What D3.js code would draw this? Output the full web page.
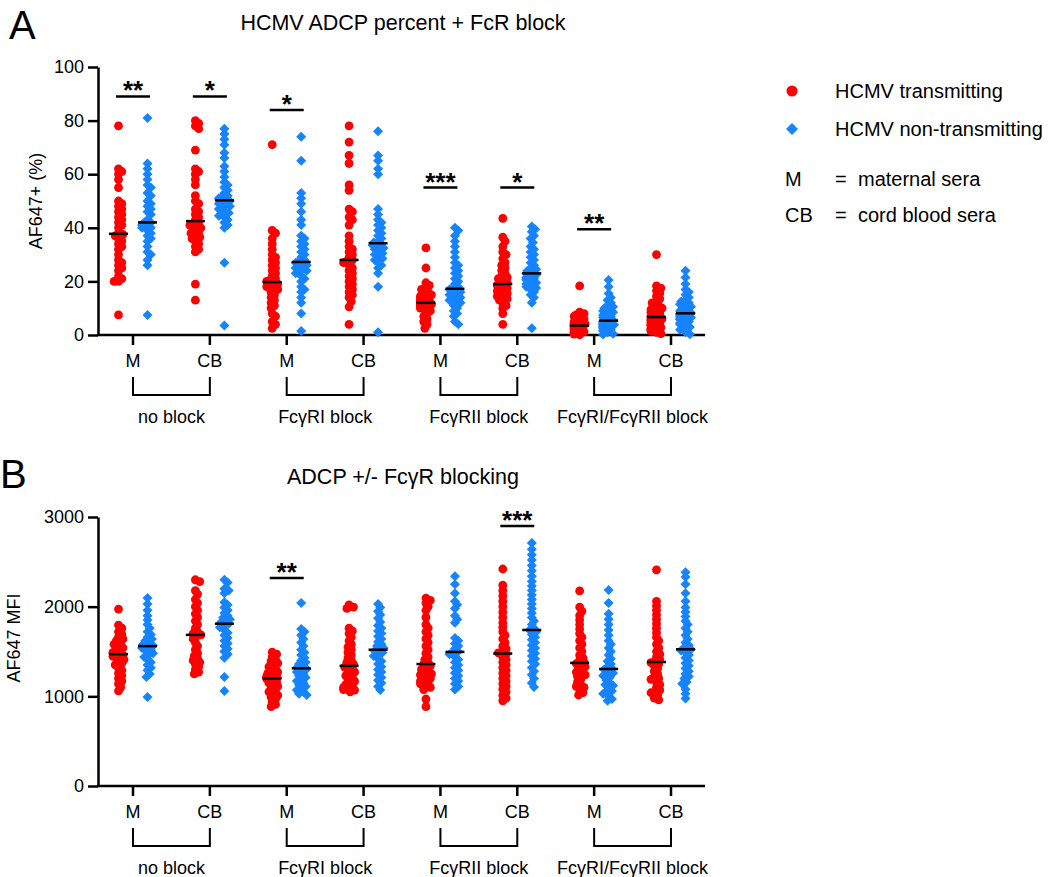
<!DOCTYPE html>
<html>
<head>
<meta charset="utf-8">
<title>ADCP FcR block</title>
<script src="https://d3js.org/d3.v7.min.js"></script>
<style>
  body { margin: 0; background: #fff; }
  text { font-family: "Liberation Sans", Arial, Helvetica, sans-serif; fill: #000; }
</style>
</head>
<body>
<script>
// categories
var positions = ["M", "CB", "M", "CB", "M", "CB", "M", "CB"];
var blocks = ["no block", "Fc\u03B3RI block", "Fc\u03B3RII block", "Fc\u03B3RI/Fc\u03B3RII block"];
var seriesNames = ["HCMV transmitting", "HCMV non-transmitting"];
var pctTicks = [0, 20, 40, 60, 80, 100];
var mfiTicks = [0, 1000, 2000, 3000];

// panel A: AF647+ (%)
var pctTransmitting = [
  [78,62,61,60,58,55,50,49,48,47,46,45,44,43,42,41,40,38,37.5,37,36,35,34,33,32,30,28,27,26,25,24,22,21,20,20,7.5],
  [80,79,78,77,69,62,61,60,58,56,52,50,49,47,46,45,44,43,42,41.5,41,40.5,40,39,38.5,38,37,36.5,36,35,34,33,32,31,19,13],
  [71,39,38,36,34,32,30,29,28,27,26,25,24,23,22,21,20.5,20,19.5,19,18.5,18,17.5,17,16,15,14,13,12,11,10,8,7,5,4,2.5],
  [78,72,67,64,56,54,47,46,44,43,41,37,35,33,32,31,30,29,28,27.5,27,26,25,24,23,22,21,20,19,18,17,16,15,14,12.5,10.5,4],
  [32.5,25,19.5,18.5,17.5,17,16,15.5,15,14.5,14,13.5,13,12.8,12.5,12,11.8,11.5,11.2,11,10.8,10.5,10,9.5,9,8,7,6,5,4,2.5],
  [43.5,36.5,35,33,31,30,28.5,27,26,25,24,23,22,21.5,21,20,19.5,19,18.5,18,17.5,17,16.5,16,15.5,15,14.5,14,13.5,13,12,11,10,8,4],
  [18.3,8.5,8,7.5,7,6.5,6,5.5,5,4.8,4.5,4.2,4,3.8,3.6,3.4,3.2,3,2.8,2.5,2.2,2,1.8,1.5,1.2,1,0.8,0.5,0.3,0.1],
  [30,18.3,17.5,16.5,15.5,14.5,13.5,12.5,12,11,10.5,10,9.5,9,8.5,8,7.5,7,6.7,6.4,6,5.8,5.5,5,4.8,4.5,4,3.8,3.5,3,2.8,2.5,2,1.8,1.5,1,0.5]
];
var pctNonTransmitting = [
  [81,64,62,60,58,56,55,53,52,50,49,48,47,46,45,43,42,42,41,41,40,40,39,38,37,36,35,33,31,30,28,26,7.5],
  [77,75,73,71,68,66,63,61,59,57,56,55,54,53,52,51.5,51,50.5,50,49.5,49,48.5,48,47.5,47,46,45.5,45,44.5,44,43,42,41,40,27,3.5],
  [74,65,53,51,49,46,43,41,37,36,35,34,33,32,31,30,29,28,27.5,27,26.5,26,25.5,25,24.5,24,23.5,23,22,21,20,18,17,16,14,12,8,1.5],
  [76,67,65,62,60,47,45,43,42,41,40,39,38,37,36,35,34.5,34,33.5,33,32.5,32,31,30.5,30,29,28.5,28,27,26,25,23,18,1],
  [40,39,37,35,31,29,27,26,25,24,23,22,21,20,19,18,17.5,17,16.5,16,15.5,15,14.5,14,13.5,13,12.5,12,11,10,9,8,7,5,4,33],
  [40.5,39.5,38.5,37,36,34.5,33,32,31,30,29,28,27,26,25,24.5,24,23.5,23,22.5,22,21.5,21,20.8,20.5,20,19.5,19,18.5,18,17.5,17,16,15,14,12,2.5],
  [20.5,18,15.5,14,13,12,11,10.5,10,9.5,9,8.5,8,7.5,7,6.5,6,5.5,5.2,5,4.8,4.5,4.2,4,3.8,3.5,3.2,3,2.8,2.5,2,1.8,1.5,1,0.5,0.2],
  [24,21.5,19,17,16,15,14,13,12.5,12,11.5,11,10.5,10,9.5,9,8.5,8.2,8,7.8,7.5,7,6.8,6.5,6,5.8,5.5,5,4.5,4,3.5,3,2.5,2,1,0.3]
];

// panel B: AF647 MFI
var mfiTransmitting = [
  [1973,1795,1760,1720,1690,1660,1640,1620,1600,1580,1560,1540,1520,1500,1490,1480,1470,1460,1445,1430,1410,1390,1370,1350,1320,1290,1260,1230,1200,1170,1140,1100,1060],
  [2300,2280,2180,2140,2080,2040,2000,1960,1920,1880,1840,1800,1760,1720,1700,1685,1670,1640,1600,1560,1520,1480,1450,1420,1400,1380,1360,1330,1300,1270,1250],
  [1494,1470,1440,1410,1390,1370,1350,1330,1310,1290,1270,1255,1240,1225,1215,1205,1195,1180,1165,1150,1130,1110,1090,1070,1050,1030,1010,990,970,940,910,885],
  [2020,1995,1980,1760,1730,1700,1660,1620,1580,1550,1520,1490,1460,1430,1400,1380,1360,1340,1325,1310,1290,1270,1250,1230,1210,1190,1170,1150,1130,1110,1100,1090,1075,1070,1050],
  [2096,2070,2040,2000,1960,1880,1800,1760,1720,1680,1640,1600,1560,1520,1480,1440,1410,1380,1360,1340,1320,1300,1280,1260,1250,1240,1220,1200,1180,1170,1160,1140,1120,1100,1075,970,885],
  [2420,2240,2180,2120,2060,2000,1940,1880,1820,1770,1720,1680,1640,1600,1560,1530,1500,1485,1470,1440,1410,1380,1350,1320,1290,1260,1230,1200,1170,1140,1110,1080,1050,1010,980,950],
  [2175,1995,1950,1900,1850,1800,1750,1700,1660,1620,1580,1540,1500,1460,1430,1400,1380,1365,1350,1330,1310,1290,1270,1250,1240,1220,1190,1160,1130,1110,1100,1070,1040,1015],
  [2410,2060,2010,1960,1910,1860,1810,1760,1710,1660,1620,1580,1540,1500,1470,1440,1410,1390,1375,1360,1340,1310,1280,1250,1220,1200,1190,1160,1130,1100,1070,1050,1040,1010,980,960]
];
var mfiNonTransmitting = [
  [2096,2030,1960,1900,1850,1800,1760,1720,1690,1660,1640,1620,1600,1580,1565,1555,1540,1520,1500,1480,1460,1440,1410,1380,1350,1320,1290,1250,1215,992],
  [2300,2270,2200,2180,2150,2050,2020,1990,1960,1930,1900,1880,1860,1840,1825,1810,1790,1770,1740,1710,1680,1650,1620,1590,1560,1530,1500,1470,1430,1215,1060],
  [2040,1750,1720,1680,1640,1600,1560,1520,1490,1460,1430,1400,1380,1360,1340,1320,1305,1290,1270,1250,1230,1210,1190,1170,1150,1130,1110,1090,1070,1050,1030,1015],
  [2030,1990,1950,1910,1870,1830,1790,1760,1730,1700,1670,1640,1610,1580,1560,1540,1520,1505,1490,1470,1450,1420,1390,1360,1330,1300,1270,1240,1210,1180,1150,1110,1070],
  [2340,2250,2150,2060,2020,1980,1900,1860,1820,1650,1620,1590,1560,1530,1500,1490,1470,1440,1410,1380,1350,1320,1290,1260,1230,1200,1170,1140,1110,1075],
  [2710,2640,2580,2520,2460,2400,2340,2280,2230,2180,2130,2080,2030,1980,1930,1880,1840,1800,1760,1740,1720,1690,1660,1630,1600,1570,1540,1510,1480,1450,1420,1390,1360,1320,1280,1240,1200,1150,1105],
  [2185,2040,1920,1860,1800,1740,1680,1620,1580,1540,1500,1460,1420,1390,1360,1330,1310,1300,1280,1260,1240,1230,1210,1180,1150,1130,1120,1090,1060,1050,1030,1000,970,950],
  [2385,2330,2250,2150,2060,1990,1940,1890,1840,1800,1760,1720,1680,1640,1600,1570,1545,1525,1510,1490,1460,1430,1400,1370,1340,1310,1280,1250,1220,1200,1160,1140,1080,1030,975]
];

// significance: group index, height (data units), stars
var pctSigGroups = [0, 1, 2, 4, 5, 6];
var pctSigHeights = [89, 89, 84, 55, 55, 39.5];
var pctSigLabels = ["**", "*", "*", "***", "*", "**"];
var mfiSigGroups = [2, 5];
var mfiSigHeights = [2320, 2900];
var mfiSigLabels = ["**", "***"];

var red = "#ff0000", blue = "#1683ff";

var svg = d3.select("body").append("svg")
  .attr("width", 1050)
  .attr("height", 877);

var x = d3.scalePoint().domain(d3.range(positions.length)).range([133, 671]);

// narrow column scatter, points allowed to overlap a bit
function swarm(vals, y, cx) {
  var pts = vals.map(function(v) { return {v: v, y: y(v)}; })
    .sort(function(a, b) { return a.y - b.y; });
  var placed = [];
  pts.forEach(function(p) {
    var best = 0;
    for (var k = 0; k < 11; k++) {
      var dx = k === 0 ? 0 : (k % 2 ? 1 : -1) * Math.ceil(k / 2) * 1.1;
      best = dx;
      var ok = placed.every(function(q) { return Math.hypot(q.dx - dx, q.y - p.y) >= 4.2; });
      if (ok) break;
    }
    p.dx = best;
    placed.push(p);
  });
  pts.forEach(function(p) { p.x = cx + p.dx; });
  return pts;
}

function drawPanel(o) {
  var g = svg.append("g");
  var y = d3.scaleLinear().domain(o.domain).range([o.y0, o.y1]);

  g.append("text").attr("x", o.letterX).attr("y", o.letterY)
    .style("font-size", "40px").text(o.letter);
  g.append("text").attr("x", 403).attr("y", o.titleY)
    .attr("text-anchor", "middle").style("font-size", "21.5px").text(o.title);

  // y axis
  var ya = g.append("g").attr("transform", "translate(98,0)")
    .call(d3.axisLeft(y).tickValues(o.ticks).tickFormat(d3.format("d"))
      .tickSize(10).tickSizeOuter(0).tickPadding(4));
  ya.selectAll("path, line").attr("stroke", "#000").attr("stroke-width", 2.5);
  ya.selectAll("text").style("font-size", "18px").attr("font-family", null);

  g.append("text")
    .attr("transform", "translate(" + o.yTitleX + "," + y((o.domain[0] + o.domain[1]) / 2 + o.yTitleShift) + ") rotate(-90)")
    .attr("text-anchor", "middle").style("font-size", "18px").text(o.yTitle);

  // x axis
  g.append("line").attr("x1", 97).attr("x2", 705).attr("y1", o.y0).attr("y2", o.y0)
    .attr("stroke", "#000").attr("stroke-width", 2.5);
  positions.forEach(function(p, i) {
    g.append("line").attr("x1", x(i)).attr("x2", x(i)).attr("y1", o.y0).attr("y2", o.y0 + 10)
      .attr("stroke", "#000").attr("stroke-width", 2.5);
    g.append("text").attr("x", x(i)).attr("y", o.y0 + 32).attr("text-anchor", "middle")
      .style("font-size", "18px").text(p);
  });
  blocks.forEach(function(b, j) {
    var xa = x(j * 2), xb = x(j * 2 + 1);
    g.append("path")
      .attr("d", "M" + xa + "," + (o.y0 + 42) + "V" + (o.y0 + 60) + "H" + xb + "V" + (o.y0 + 42))
      .attr("fill", "none").attr("stroke", "#000").attr("stroke-width", 2);
    g.append("text").attr("x", (xa + xb) / 2).attr("y", o.y0 + 88).attr("text-anchor", "middle")
      .style("font-size", "18px").text(b);
  });

  // points
  [o.trans, o.non].forEach(function(series, s) {
    series.forEach(function(vals, i) {
      var cx = x(i) + (s === 0 ? -14.5 : 14.5);
      var pts = swarm(vals, y, cx);
      if (s === 0) {
        g.selectAll(null).data(pts).enter().append("circle")
          .attr("cx", function(d) { return d.x; })
          .attr("cy", function(d) { return d.y; })
          .attr("r", 4.4).attr("fill", red);
      } else {
        g.selectAll(null).data(pts).enter().append("path")
          .attr("d", d3.symbol(d3.symbolSquare, 50)())
          .attr("transform", function(d) { return "translate(" + d.x + "," + d.y + ") rotate(45)"; })
          .attr("fill", blue);
      }
      var m = d3.median(vals);
      g.append("line").attr("x1", cx - 9.5).attr("x2", cx + 9.5)
        .attr("y1", y(m)).attr("y2", y(m))
        .attr("stroke", "#000").attr("stroke-width", 2.5);
    });
  });

  // significance bars
  o.sigGroups.forEach(function(gi, k) {
    var yy = y(o.sigHeights[k]);
    g.append("line").attr("x1", x(gi) - 17).attr("x2", x(gi) + 17).attr("y1", yy).attr("y2", yy)
      .attr("stroke", "#000").attr("stroke-width", 2.5);
    g.append("text").attr("x", x(gi)).attr("y", yy + 3).attr("text-anchor", "middle")
      .style("font-size", "26px").style("font-weight", "bold").text(o.sigLabels[k]);
  });
}

drawPanel({
  letter: "A", letterX: 9, letterY: 39, title: "HCMV ADCP percent + FcR block", titleY: 30,
  domain: [0, 100], y0: 335, y1: 67, ticks: pctTicks,
  yTitle: "AF647+ (%)", yTitleX: 42, yTitleShift: 0,
  trans: pctTransmitting, non: pctNonTransmitting,
  sigGroups: pctSigGroups, sigHeights: pctSigHeights, sigLabels: pctSigLabels
});
drawPanel({
  letter: "B", letterX: 0, letterY: 488, title: "ADCP +/- Fc\u03B3R blocking", titleY: 484,
  domain: [0, 3000], y0: 786, y1: 517, ticks: mfiTicks,
  yTitle: "AF647 MFI", yTitleX: 20, yTitleShift: 150,
  trans: mfiTransmitting, non: mfiNonTransmitting,
  sigGroups: mfiSigGroups, sigHeights: mfiSigHeights, sigLabels: mfiSigLabels
});

// legend
var leg = svg.append("g");
leg.append("circle").attr("cx", 792).attr("cy", 91).attr("r", 5.5).attr("fill", red);
leg.append("path").attr("d", d3.symbol(d3.symbolSquare, 72)())
  .attr("transform", "translate(792,129) rotate(45)").attr("fill", blue);
leg.selectAll(null).data(seriesNames).enter().append("text")
  .attr("x", 835).attr("y", function(d, i) { return 98 + i * 38; })
  .style("font-size", "20px").text(function(d) { return d; });
var legKeys = ["M", "CB"], legDesc = ["maternal sera", "cord blood sera"];
legKeys.forEach(function(k, i) {
  var yy = 186 + i * 36;
  leg.append("text").attr("x", 785).attr("y", yy).style("font-size", "20px").text(k);
  leg.append("text").attr("x", 835).attr("y", yy).style("font-size", "20px").text("=");
  leg.append("text").attr("x", 858).attr("y", yy).style("font-size", "20px").text(legDesc[i]);
});
</script>
</body>
</html>
